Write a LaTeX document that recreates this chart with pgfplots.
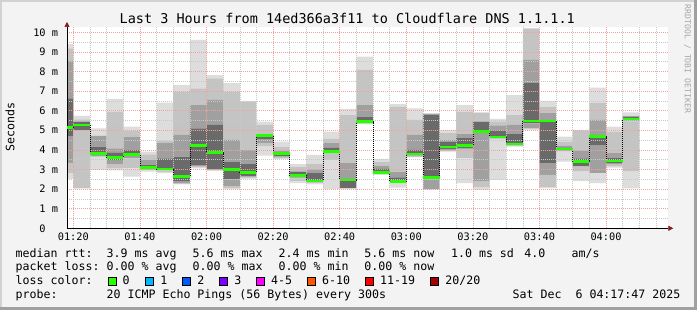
\documentclass[border=0pt]{standalone}
\usepackage{pgfplots}
\pgfplotsset{compat=1.18}
\usepackage{pgfplotstable}
\usepackage{fontspec}
\setmainfont{DejaVu Sans Mono}
\usetikzlibrary{arrows.meta}
\definecolor{bg}{HTML}{F3F3F3}
\definecolor{bordlight}{HTML}{D2D2D2}
\definecolor{borddark}{HTML}{A0A0A0}
\definecolor{g1}{HTML}{DDDDDD}
\definecolor{g2}{HTML}{C4C4C4}
\definecolor{g3}{HTML}{A0A0A0}
\definecolor{g4}{HTML}{6A6A6A}
\definecolor{lgreen}{HTML}{26FF00}
\definecolor{lcyan}{HTML}{00B8FF}
\definecolor{lblue}{HTML}{0059FF}
\definecolor{lpurple}{HTML}{7E00FF}
\definecolor{lmagenta}{HTML}{FF00FF}
\definecolor{lorange}{HTML}{FF5500}
\definecolor{lred}{HTML}{FF0000}
\definecolor{ldred}{HTML}{A00000}
\definecolor{arrowred}{HTML}{8B1A1A}
\definecolor{mgrid}{HTML}{F2A0A0}
\definecolor{ngrid}{HTML}{C8C8C8}
\newcommand\legfont{\fontsize{11.6}{13}\selectfont}

% column start (minutes after 01:00), smoke band boundaries (ms), median (ms)
\pgfplotstableread{
x   lo    a     b     c     d     e     f     hi    med
15  2.52  2.81  3.32  4.68  6.63  8.54  9.18  9.40  5.13
20  2.04  2.04  4.98  5.00  5.44  5.44  5.56  5.73  5.27
25  2.98  3.66  3.66  3.71  4.17  4.71  4.71  5.10  3.81
30  2.95  3.05  3.25  3.45  3.85  4.08  5.95  6.60  3.61
35  2.64  3.06  3.57  3.71  3.99  4.68  4.97  5.19  3.76
40  2.89  2.95  2.98  3.00  3.25  3.49  3.77  3.91  3.10
45  2.81  2.88  2.95  3.00  3.57  4.34  4.46  6.41  3.03
50  2.24  2.26  2.30  2.38  3.66  4.76  6.97  7.31  2.64
55  3.06  3.10  3.15  3.20  5.10  6.29  7.14  9.61  4.22
60  2.93  2.95  2.97  3.00  5.27  6.55  7.65  7.82  3.86
65  2.00  2.05  2.15  2.50  3.40  4.51  6.97  7.40  2.99
70  2.52  2.55  2.60  2.65  3.30  3.99  6.45  6.50  2.84
75  3.71  4.17  4.35  4.55  4.76  4.80  5.27  5.44  4.74
80  3.54  3.55  3.60  3.67  3.88  3.95  4.17  4.42  3.81
85  2.30  2.40  2.55  2.60  2.89  2.90  3.15  3.27  2.69
90  2.24  2.30  2.35  2.38  2.81  3.00  3.27  3.74  2.41
95  2.01  3.49  3.85  3.88  4.10  4.34  4.56  4.93  3.91
100 2.01  2.03  2.05  2.05  2.45  3.32  5.78  6.09  2.47
105 5.32  5.33  5.35  5.38  5.70  6.29  8.08  8.76  5.44
110 2.72  2.76  2.79  2.81  3.03  3.20  3.37  3.54  2.84
115 2.07  2.35  2.35  2.36  2.60  2.89  6.20  6.33  2.38
120 3.62  3.65  3.70  3.72  4.00  4.76  5.53  6.12  3.79
125 1.96  1.98  2.00  2.50  5.80  5.82  5.85  5.87  2.59
130 3.91  3.93  4.00  4.05  4.40  4.50  4.85  5.02  4.15
135 2.30  3.57  4.05  4.10  4.60  4.80  5.95  6.29  4.22
140 1.96  2.10  2.38  4.85  5.44  5.44  5.90  5.92  4.93
145 2.47  4.55  4.60  4.62  5.00  5.25  5.45  5.58  4.66
150 4.17  4.20  4.22  4.25  4.80  5.27  5.78  6.80  4.29
155 5.02  5.05  5.10  5.35  7.40  8.59  10.20 10.20 5.48
160 2.04  2.10  2.72  3.32  5.50  5.87  6.21  6.50  5.48
165 3.40  3.91  3.95  3.97  4.10  4.20  4.42  4.68  4.05
170 2.41  2.89  3.15  3.17  3.57  3.95  5.00  5.02  3.40
175 2.30  2.81  2.81  4.22  4.70  5.53  6.38  7.18  4.68
180 3.10  3.15  3.25  3.30  3.60  3.83  4.93  5.19  3.44
185 2.04  2.89  5.45  5.50  5.70  5.72  5.72  5.92  5.58
}\smoke

\pgfplotsset{base/.style={at={(67pt,81.7pt)}, anchor=south west, scale only axis,
  width=601.3pt, height=201.3pt, xmin=18.1, xmax=198.7, ymin=0, ymax=10.27}}

\begin{document}
\begin{tikzpicture}
\path[use as bounding box] (0,0) rectangle (697pt,310pt);
\fill[bg] (0,0) rectangle (697pt,310pt);
\fill[bordlight] (0,0) rectangle (2pt,310pt);
\fill[bordlight] (0,308pt) rectangle (697pt,310pt);
\fill[borddark] (0,0) rectangle (697pt,3pt);
\fill[borddark] (694pt,0) rectangle (697pt,310pt);
\fill[white] (67pt,81.7pt) rectangle (668.3pt,283pt);

\begin{axis}[base, hide axis, ybar stacked, bar width=5]
\addplot[draw=none, fill=none] table[x expr=\thisrow{x}+2.5, y=lo] {\smoke};
\addplot[draw=none, fill=g1] table[x expr=\thisrow{x}+2.5, y expr=\thisrow{a}-\thisrow{lo}] {\smoke};
\addplot[draw=none, fill=g2] table[x expr=\thisrow{x}+2.5, y expr=\thisrow{b}-\thisrow{a}] {\smoke};
\addplot[draw=none, fill=g3] table[x expr=\thisrow{x}+2.5, y expr=\thisrow{c}-\thisrow{b}] {\smoke};
\addplot[draw=none, fill=g4] table[x expr=\thisrow{x}+2.5, y expr=\thisrow{d}-\thisrow{c}] {\smoke};
\addplot[draw=none, fill=g3] table[x expr=\thisrow{x}+2.5, y expr=\thisrow{e}-\thisrow{d}] {\smoke};
\addplot[draw=none, fill=g2] table[x expr=\thisrow{x}+2.5, y expr=\thisrow{f}-\thisrow{e}] {\smoke};
\addplot[draw=none, fill=g1] table[x expr=\thisrow{x}+2.5, y expr=\thisrow{hi}-\thisrow{f}] {\smoke};
\end{axis}

\begin{axis}[base, axis lines=left,
  axis line style={black, line width=0.7pt},
  x axis line style={-{Triangle[length=5pt,width=5pt,color=arrowred]}, shorten >=-5pt},
  y axis line style={-{Triangle[length=5pt,width=5pt,color=arrowred]}, shorten >=-5pt},
  xtick={20,40,...,180},
  xticklabels={01:20,01:40,02:00,02:20,02:40,03:00,03:20,03:40,04:00},
  minor xtick={25,30,35,45,50,55,65,70,75,85,90,95,105,110,115,125,130,135,145,150,155,165,170,175,185,190,195},
  ytick={0,1,...,10},
  yticklabels={0\phantom{\ m},1 m,2 m,3 m,4 m,5 m,6 m,7 m,8 m,9 m,10 m},
  minor ytick={0.5,1.5,...,9.5},
  grid=both,
  major grid style={mgrid, dash pattern=on 1pt off 1pt, line width=0.6pt},
  minor grid style={ngrid, dash pattern=on 1pt off 1pt, line width=0.6pt},
  major tick length=0pt, minor tick length=0pt,
  tick label style={font=\fontsize{10.3}{12}\selectfont, inner sep=0pt},
  xticklabel style={anchor=base, yshift=-12.7pt},
  yticklabel style={anchor=east, xshift=-8.7pt},
]
\addplot[const plot mark mid, mark=none, black, line width=0.7pt, dash pattern=on 1pt off 1pt]
  table[x expr=\thisrow{x}+2.5, y=med] {\smoke};
\addplot[draw=none, mark=none, error bars/.cd, x dir=both, x fixed=2.5,
  error mark=none, error bar style={draw=lgreen, line width=2.5pt, solid}]
  table[x expr=\thisrow{x}+2.5, y=med] {\smoke};
\end{axis}

\node[anchor=base, inner sep=0, font=\fontsize{13.5}{15}\selectfont] at (347.3pt,286pt)
  {Last 3 Hours from 14ed366a3f11 to Cloudflare DNS 1.1.1.1};
\node[rotate=90, inner sep=0, font=\legfont] at (10pt,183.3pt) {Seconds};
\node[rotate=-90, inner sep=0, font=\fontsize{8.2}{9}\selectfont, color=black!35] at (687.5pt,251pt)
  {RRDTOOL / TOBI OETIKER};

\begin{scope}[every node/.style={anchor=base west, inner sep=0, font=\legfont}]
\node at (15.5pt,52.3pt) {median rtt:};
\node at (106.5pt,52.3pt) {3.9 ms avg};
\node at (192.5pt,52.3pt) {5.6 ms max};
\node at (278.5pt,52.3pt) {2.4 ms min};
\node at (364.2pt,52.3pt) {5.6 ms now};
\node at (450.9pt,52.3pt) {1.0 ms sd};
\node at (524.2pt,52.3pt) {4.0};
\node at (571.5pt,52.3pt) {am/s};
\node at (15.5pt,39pt) {packet loss:};
\node at (106.5pt,39pt) {0.00 \% avg};
\node at (192.5pt,39pt) {0.00 \% max};
\node at (278.5pt,39pt) {0.00 \% min};
\node at (364.2pt,39pt) {0.00 \% now};
\node at (15.5pt,25pt) {loss color:};
\node at (122.5pt,25pt) {0};
\node at (160.2pt,25pt) {1};
\node at (197.2pt,25pt) {2};
\node at (234.2pt,25pt) {3};
\node at (270.9pt,25pt) {4-5};
\node at (321.9pt,25pt) {6-10};
\node at (379.9pt,25pt) {11-19};
\node at (445.2pt,25pt) {20/20};
\node at (15.5pt,11pt) {probe:};
\node at (106.5pt,11pt) {20 ICMP Echo Pings (56 Bytes) every 300s};
\node at (512.5pt,11pt) {Sat Dec\ \ 6 04:17:47 2025};
\end{scope}
\begin{scope}[line width=0.7pt]
\draw[fill=lgreen] (108.3pt,24.7pt) rectangle (116pt,32.3pt);
\draw[fill=lcyan] (145.7pt,24.7pt) rectangle (153.3pt,32.3pt);
\draw[fill=lblue] (182.7pt,24.7pt) rectangle (190.3pt,32.3pt);
\draw[fill=lpurple] (219.3pt,24.7pt) rectangle (227pt,32.3pt);
\draw[fill=lmagenta] (256.7pt,24.7pt) rectangle (264.3pt,32.3pt);
\draw[fill=lorange] (307.3pt,24.7pt) rectangle (315pt,32.3pt);
\draw[fill=lred] (365.7pt,24.7pt) rectangle (373.3pt,32.3pt);
\draw[fill=ldred] (430.7pt,24.7pt) rectangle (438.3pt,32.3pt);
\end{scope}
\end{tikzpicture}
\end{document}
